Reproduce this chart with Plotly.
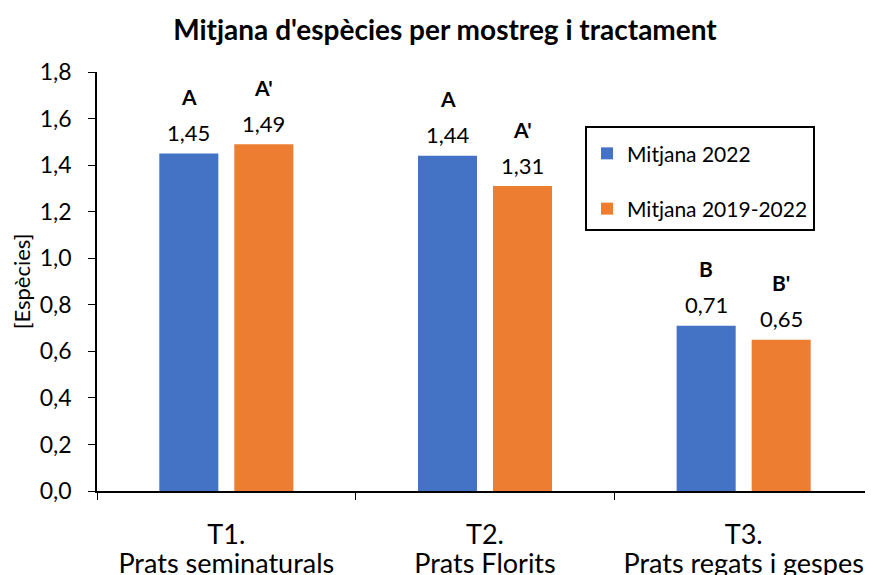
import plotly.graph_objects as go

categories = ["T1", "T2", "T3"]
line1 = ["T1.", "T2.", "T3."]
line2 = ["Prats seminaturals", "Prats Florits", "Prats regats i gespes"]
series_names = ["Mitjana 2022", "Mitjana 2019-2022"]
vals_2022 = [1.45, 1.44, 0.71]
vals_1922 = [1.49, 1.31, 0.65]
letters_2022 = ["A", "A", "B"]
letters_1922 = ["A'", "A'", "B'"]
colors = ["#4472C4", "#ED7D31"]

FONT = "Lato, Carlito, Calibri, sans-serif"
# page body has an 8px default margin: figure is drawn 8px smaller
W, H = 865, 567
fig = go.Figure()
for name, vals, col, grp in [(series_names[0], vals_2022, colors[0], "g1"),
                             (series_names[1], vals_1922, colors[1], "g2")]:
    fig.add_trace(go.Bar(x=categories, y=vals, name=name, marker_color=col,
                         marker_line_width=0, legendgroup=grp))

# invisible helper trace so the second-line category axis is drawn
fig.add_trace(go.Scatter(x=list(range(len(categories))), y=[0] * len(categories),
                         xaxis="x2", mode="markers", marker=dict(opacity=0),
                         showlegend=False, hoverinfo="skip"))

ann = []
for vals, lets, sh in [(vals_2022, letters_2022, -37.5), (vals_1922, letters_1922, 37.5)]:
    for c, v, l in zip(categories, vals, lets):
        ann.append(dict(x=c, y=v, xref="x", yref="y", text=f"{v:.2f}".replace(".", ","),
                        showarrow=False, xshift=sh, yshift=21, yanchor="middle",
                        font=dict(size=22, color="black", family=FONT)))
        ann.append(dict(x=c, y=v, xref="x", yref="y", text=f"<b>{l}</b>",
                        showarrow=False, xshift=sh, yshift=57, yanchor="middle",
                        font=dict(size=21, color="black", family=FONT)))

fig.update_layout(
    width=W, height=H,
    margin=dict(l=89, r=0, t=64, b=84),
    paper_bgcolor="white", plot_bgcolor="white",
    separators=",.",
    font=dict(family=FONT, color="black", size=23),
    title=dict(text="<b>Mitjana d'espècies per mostreg i tractament</b>",
               x=437 / W, xanchor="center", y=1 - 22 / H, yanchor="middle",
               font=dict(size=28, color="black", family=FONT)),
    barmode="group", bargap=0.42, bargroupgap=0.213,
    showlegend=True,
    legend=dict(x=(585 - 97) / 776, y=(491 - 126) / 419, xanchor="left", yanchor="top",
                bordercolor="black", borderwidth=2, bgcolor="white",
                title=dict(text=" ", font=dict(size=4)),
                tracegroupgap=25, font=dict(size=21, family=FONT, color="black")),
    annotations=ann,
)
fig.update_yaxes(range=[0, 1.8], dtick=0.2, tickformat=".1f", showgrid=False,
                 showline=True, linecolor="black", linewidth=1.5,
                 ticks="outside", ticklen=7, tickcolor="black", ticklabelstandoff=12,
                 tickfont=dict(size=23, family=FONT), zeroline=False, automargin=False,
                 title=dict(text="[Espècies]", font=dict(size=22, family=FONT), standoff=14))
fig.update_xaxes(type="category", tickvals=categories, ticktext=line1,
                 tickson="boundaries", ticks="outside", ticklen=7, tickcolor="black",
                 showline=True, linecolor="black", linewidth=1.5, showgrid=False,
                 tickfont=dict(size=27, family=FONT), range=[-0.5, 2.5],
                 automargin=False, ticklabelstandoff=19)
fig.update_layout(xaxis2=dict(overlaying="x", anchor="y", side="bottom",
                              range=[-0.5, 2.5], tickmode="array", tickvals=[0, 1, 2],
                              ticktext=line2, showline=False, showgrid=False,
                              zeroline=False, ticks="", ticklabelstandoff=54,
                              automargin=False,
                              tickfont=dict(size=27, family=FONT, color="black")))
fig.write_html("out.html")
